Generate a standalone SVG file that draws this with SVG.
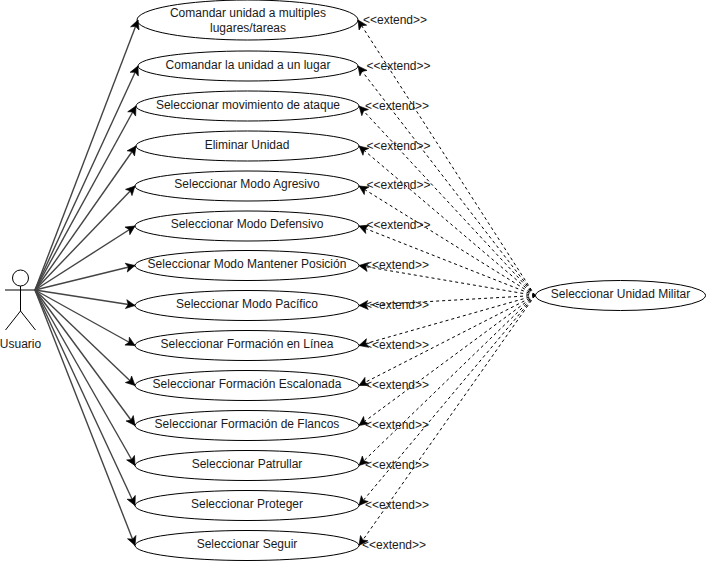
<svg xmlns="http://www.w3.org/2000/svg" width="706" height="561" viewBox="0 0 706 561">
<style>
text{font-family:"Liberation Sans",Arial,sans-serif;font-size:12px;fill:#1a1a1a;text-anchor:middle}
.uc{fill:#fff;stroke:#000;stroke-width:1}
.a{stroke:#444;stroke-width:1.400;fill:none;marker-end:url(#m)}
.d{stroke:#000;stroke-width:1;fill:none;stroke-dasharray:3 3;marker-end:url(#m2)}
.x{text-anchor:start}
.act{stroke:#000;stroke-width:1;fill:#fff}
</style>
<defs><marker id="m" markerUnits="userSpaceOnUse" markerWidth="12" markerHeight="12" refX="9" refY="4.500" orient="auto" overflow="visible"><path d="M0 0L9 4.500L0 9L2.200 4.500Z" fill="#000" stroke="#000" stroke-width="0.600"/></marker><marker id="m2" markerUnits="userSpaceOnUse" markerWidth="12" markerHeight="12" refX="9" refY="4.500" orient="auto" overflow="visible"><path d="M0 0L9 4.500L0 9L2.200 4.500Z" fill="#000" stroke="#000" stroke-width="0.600"/></marker></defs>
<rect width="706" height="561" fill="#fff"/>
<g id="n1"><ellipse class="uc" cx="247.500" cy="20" rx="110.500" ry="20"/><text x="248" y="17">Comandar unidad a multiples</text><text x="248" y="32">lugares/tareas</text></g>
<g id="n2"><ellipse class="uc" cx="248" cy="66" rx="110" ry="15"/><text x="248" y="69">Comandar la unidad a un lugar</text></g>
<g id="n3"><ellipse class="uc" cx="247.500" cy="106" rx="111.500" ry="15"/><text x="248" y="109">Seleccionar movimiento de ataque</text></g>
<g id="n4"><ellipse class="uc" cx="247.500" cy="146" rx="111.500" ry="15"/><text x="247" y="149">Eliminar Unidad</text></g>
<g id="n5"><ellipse class="uc" cx="247" cy="186" rx="112" ry="15"/><text x="247" y="188">Seleccionar Modo Agresivo</text></g>
<g id="n6"><ellipse class="uc" cx="247" cy="226" rx="112" ry="15"/><text x="247" y="228">Seleccionar Modo Defensivo</text></g>
<g id="n7"><ellipse class="uc" cx="247" cy="265.500" rx="112" ry="15"/><text x="247" y="268">Seleccionar Modo Mantener Posición</text></g>
<g id="n8"><ellipse class="uc" cx="247" cy="305.500" rx="112" ry="15"/><text x="247" y="308">Seleccionar Modo Pacífico</text></g>
<g id="n9"><ellipse class="uc" cx="247" cy="345.500" rx="112" ry="15"/><text x="247" y="348">Seleccionar Formación en Línea</text></g>
<g id="n10"><ellipse class="uc" cx="247" cy="385.500" rx="112" ry="15"/><text x="247" y="388">Seleccionar Formación Escalonada</text></g>
<g id="n11"><ellipse class="uc" cx="247" cy="425.500" rx="112" ry="15"/><text x="247" y="428">Seleccionar Formación de Flancos</text></g>
<g id="n12"><ellipse class="uc" cx="247" cy="465.500" rx="112" ry="15"/><text x="247" y="468">Seleccionar Patrullar</text></g>
<g id="n13"><ellipse class="uc" cx="247" cy="505.500" rx="112" ry="15"/><text x="247" y="508">Seleccionar Proteger</text></g>
<g id="n14"><ellipse class="uc" cx="247" cy="545.500" rx="112" ry="15"/><text x="247" y="548">Seleccionar Seguir</text></g>
<g id="n15"><ellipse class="uc" cx="620.500" cy="295.500" rx="85" ry="15"/><text x="620.500" y="298">Seleccionar Unidad Militar</text></g>
<g id="actor"><circle class="act" cx="20.500" cy="278" r="8"/><path class="act" d="M20.500 286V311M5 290H35M20.500 311L5.500 330M20.500 311L35.500 330" style="fill:none"/><text x="20.500" y="348">Usuario</text></g>
<g id="connectors">
<path class="a" d="M35 290L138 20"/><path class="a" d="M35 290L138 66"/><path class="a" d="M35 290L136 106"/><path class="a" d="M35 290L136 146"/><path class="a" d="M35 290L135 186"/><path class="a" d="M35 290L135 226"/><path class="a" d="M35 290L135 265.500"/><path class="a" d="M35 290L135 305.500"/><path class="a" d="M35 290L135 345.500"/><path class="a" d="M35 290L135 385.500"/><path class="a" d="M35 290L135 425.500"/><path class="a" d="M35 290L135 465.500"/><path class="a" d="M35 290L135 505.500"/><path class="a" d="M35 290L135 545.500"/>
<path class="d" d="M535 295.500L358 20"/><path class="d" d="M535 295.500L358 66"/><path class="d" d="M535 295.500L359 106"/><path class="d" d="M535 295.500L359 146"/><path class="d" d="M535 295.500L359 186"/><path class="d" d="M535 295.500L359 226"/><path class="d" d="M535 295.500L359 265.500"/><path class="d" d="M535 295.500L359 305.500"/><path class="d" d="M535 295.500L359 345.500"/><path class="d" d="M535 295.500L359 385.500"/><path class="d" d="M535 295.500L359 425.500"/><path class="d" d="M535 295.500L359 465.500"/><path class="d" d="M535 295.500L359 505.500"/><path class="d" d="M535 295.500L359 545.500"/>
</g>
<g id="labels">
<text class="x" x="363" y="24">&lt;&lt;extend&gt;&gt;</text><text class="x" x="366.500" y="70">&lt;&lt;extend&gt;&gt;</text><text class="x" x="365" y="110">&lt;&lt;extend&gt;&gt;</text><text class="x" x="366.500" y="150">&lt;&lt;extend&gt;&gt;</text><text class="x" x="366.500" y="189">&lt;&lt;extend&gt;&gt;</text><text class="x" x="366.500" y="229">&lt;&lt;extend&gt;&gt;</text><text class="x" x="365" y="269">&lt;&lt;extend&gt;&gt;</text><text class="x" x="365" y="309">&lt;&lt;extend&gt;&gt;</text><text class="x" x="365" y="349">&lt;&lt;extend&gt;&gt;</text><text class="x" x="365" y="389">&lt;&lt;extend&gt;&gt;</text><text class="x" x="365" y="429">&lt;&lt;extend&gt;&gt;</text><text class="x" x="365" y="469">&lt;&lt;extend&gt;&gt;</text><text class="x" x="365" y="509">&lt;&lt;extend&gt;&gt;</text><text class="x" x="362" y="549">&lt;&lt;extend&gt;&gt;</text>
</g>
</svg>
